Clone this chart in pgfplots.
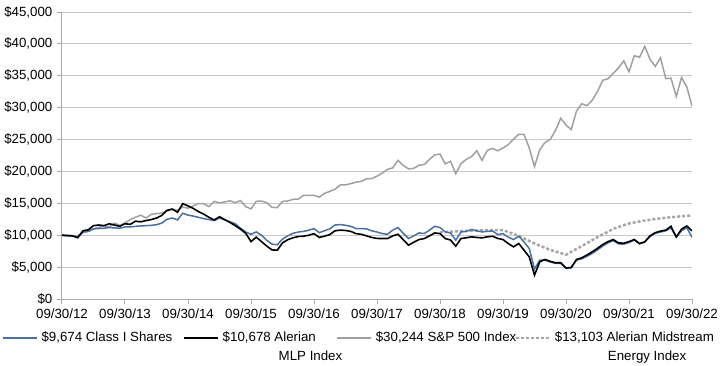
\documentclass[border=0pt]{standalone}
\usepackage{pgfplots}
\pgfplotsset{compat=1.18}
\usepackage{pgfplotstable}
\usepackage{fontspec}
\setmainfont{Liberation Sans}
\definecolor{blueline}{RGB}{74,112,163}
\definecolor{spgray}{RGB}{160,160,160}
\definecolor{midgray}{RGB}{166,166,166}
\definecolor{gridgray}{RGB}{200,200,200}
\definecolor{axgray}{RGB}{170,170,170}

\pgfplotstableread{
m blue black sp
0 10000 10000 10000
1 9950 9970 9815
2 9900 9900 9859
3 9700 9600 9945
4 10500 10700 10464
5 10600 10850 10600
6 11000 11500 10995
7 11050 11600 11217
8 11100 11500 11467
9 11200 11800 11310
10 11150 11600 11892
11 11100 11400 11537
12 11300 11800 11902
13 11300 11700 12453
14 11400 12200 12821
15 11450 12100 13141
16 11500 12300 12699
17 11550 12450 13262
18 11650 12700 13377
19 11900 13100 13484
20 12500 13900 13793
21 12700 14100 14074
22 12400 13600 13888
23 13450 14950 14429
24 13150 14600 14229
25 13000 14200 14584
26 12800 13700 14970
27 12600 13300 14929
28 12450 12800 14489
29 12300 12400 15313
30 12700 12900 15068
31 12400 12450 15223
32 12100 12000 15402
33 11800 11500 15104
34 11100 10950 15429
35 10500 10300 14485
36 10150 9000 14126
37 10520 9700 15321
38 10000 9000 15353
39 9200 8300 15112
40 8600 7700 14367
41 8500 7650 14331
42 9400 8800 15305
43 9900 9300 15367
44 10300 9600 15630
45 10500 9800 15671
46 10600 9850 16258
47 10780 10000 16261
48 11040 10250 16264
49 10400 9650 15975
50 10700 9850 16551
51 11000 10100 16880
52 11600 10700 17209
53 11670 10800 17880
54 11560 10750 17901
55 11400 10600 18090
56 11050 10250 18332
57 11040 10150 18445
58 11000 9900 18833
59 10700 9650 18879
60 10500 9500 19269
61 10260 9480 19730
62 10150 9480 20323
63 10800 9900 20555
64 11200 10150 21744
65 10300 9300 20931
66 9480 8440 20402
67 9900 8900 20489
68 10360 9320 20964
69 10260 9480 21099
70 10800 9900 21895
71 11400 10360 22600
72 11200 10260 22729
73 10520 9480 21188
74 10360 9250 21599
75 9220 8280 19651
76 10520 9480 21230
77 10600 9600 21893
78 10900 9740 22323
79 10700 9650 23242
80 10520 9580 21747
81 10600 9750 23286
82 10680 9840 23625
83 10100 9500 23234
84 10260 9320 23678
85 9700 8700 24203
86 9320 8180 25064
87 9840 8700 25824
88 8960 7660 25826
89 7920 6610 23688
90 4700 3750 20762
91 6090 5830 23427
92 6100 6200 24528
93 5800 5900 25020
94 5600 5680 26443
95 5600 5680 28340
96 4850 4850 27274
97 4900 4950 26563
98 6100 6200 29471
99 6300 6460 30611
100 6700 6900 30319
101 7150 7400 31161
102 7700 7950 32539
103 8300 8540 34298
104 8800 9000 34543
105 9150 9320 35372
106 8650 8800 36229
107 8600 8750 37344
108 8850 9000 35626
109 9250 9320 38144
110 8650 8700 37891
111 8950 8960 39606
112 9800 9900 37590
113 10300 10400 36467
114 10500 10650 37829
115 10700 10800 34561
116 11150 11400 34617
117 9700 9740 31762
118 10700 10940 34712
119 11200 11460 33295
120 9674 10678 30244
}\maindata

\pgfplotstableread{
m mid
72 10450
75 10600
78 10700
81 10780
84 10800
87 9900
90 8700
93 7700
96 6950
99 8300
102 9700
105 11000
108 11850
111 12300
114 12650
117 12900
120 13103
}\middata

\begin{document}
\fontsize{13.3}{16}\selectfont
\begin{tikzpicture}
\path[use as bounding box] (-62pt,-66pt) rectangle (658pt,299pt);
\begin{axis}[
  at={(0pt,0pt)}, anchor=south west,
  width=630pt, height=287pt, scale only axis,
  xmin=0, xmax=120, ymin=0, ymax=45000,
  axis x line*=bottom, axis y line*=left,
  axis line style={axgray, line width=1pt, -},
  xtick={0,12,...,120},
  xticklabels={09/30/12,09/30/13,09/30/14,09/30/15,09/30/16,09/30/17,09/30/18,09/30/19,09/30/20,09/30/21,09/30/22},
  ytick={0,5000,...,45000},
  yticklabels={\$0,{\$5,000},{\$10,000},{\$15,000},{\$20,000},{\$25,000},{\$30,000},{\$35,000},{\$40,000},{\$45,000}},
  scaled y ticks=false,
  ymajorgrids, grid style={gridgray, line width=1pt},
  tick style={axgray, line width=1pt},
  major tick length=5pt,
  tick align=outside,
  tick label style={font=\fontsize{13.3}{16}\selectfont, text=black},
]
\addplot[midgray, line width=2.5pt, dash pattern=on 3pt off 2pt] table[x=m, y=mid] {\middata};
\addplot[spgray, line width=1.5pt] table[x=m, y=sp] {\maindata};
\addplot[blueline, line width=1.5pt] table[x=m, y=blue] {\maindata};
\addplot[black, line width=1.6pt] table[x=m, y=black] {\maindata};
\end{axis}
\begin{axis}[
  at={(0pt,0pt)}, anchor=south west,
  width=630pt, height=287pt, scale only axis,
  xmin=0, xmax=120, ymin=0, ymax=45000,
  hide axis,
  legend columns=4,
  legend image code/.code={\draw[#1] (0pt,0pt) -- (34pt,0pt);},
  legend style={at={(-0.0952,-0.1359)}, anchor=west, draw=none, fill=none,
    inner sep=0pt, outer sep=0pt, column sep=0pt, row sep=0pt,
    nodes={inner sep=0pt, anchor=west, font=\fontsize{13.3}{16}\selectfont}},
]
\addlegendimage{blueline, line width=1.5pt}
\addlegendentry{\makebox[145.6pt][l]{\hspace*{4pt}\$9,674 Class I Shares}}
\addlegendimage{black, line width=1.6pt}
\addlegendentry{\makebox[117.6pt][l]{\hspace*{4pt}\rlap{\hspace*{56pt}\smash{\raisebox{-19pt}{MLP Index}}}\$10,678 Alerian}}
\addlegendimage{spgray, line width=1.5pt}
\addlegendentry{\makebox[142.6pt][l]{\hspace*{4pt}\$30,244 S\&P 500 Index}}
\addlegendimage{midgray, line width=2.5pt, dash pattern=on 3pt off 2pt}
\addlegendentry{\hspace*{4pt}\rlap{\hspace*{53pt}\smash{\raisebox{-19pt}{Energy Index}}}\$13,103 Alerian Midstream}
\end{axis}
\end{tikzpicture}
\end{document}
